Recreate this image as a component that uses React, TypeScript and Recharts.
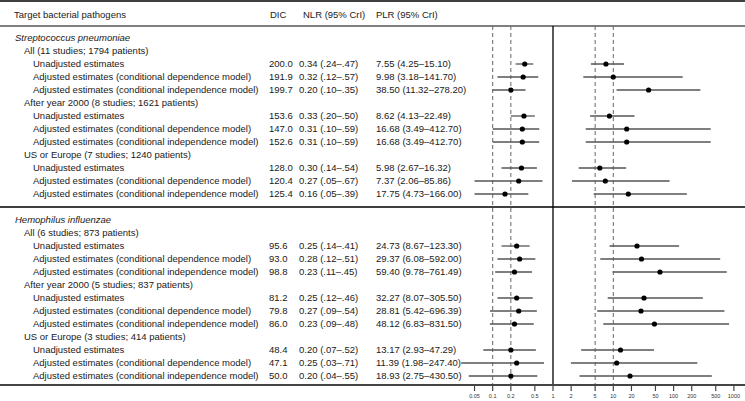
import React from 'react';
import { ScatterChart, Scatter, XAxis, YAxis, ErrorBar, ReferenceLine } from 'recharts';

const FONT = '"Liberation Sans", Arial, Helvetica, sans-serif';

// ---- data ----
const pathogens = ['Streptococcus pneumoniae', 'Hemophilus influenzae'];
const subgroups = [
  ['All (11 studies; 1794 patients)', 'After year 2000 (8 studies; 1621 patients)', 'US or Europe (7 studies; 1240 patients)'],
  ['All (6 studies; 873 patients)', 'After year 2000 (5 studies; 837 patients)', 'US or Europe (3 studies; 414 patients)'],
];
const models = [
  'Unadjusted estimates',
  'Adjusted estimates (conditional dependence model)',
  'Adjusted estimates (conditional independence model)',
];
const headers = ['Target bacterial pathogens', 'DIC', 'NLR (95% CrI)', 'PLR (95% CrI)'];

const dic = [200.0, 191.9, 199.7, 153.6, 147.0, 152.6, 128.0, 120.4, 125.4, 95.6, 93.0, 98.8, 81.2, 79.8, 86.0, 48.4, 47.1, 50.0];
const nlr = [0.34, 0.32, 0.20, 0.33, 0.31, 0.31, 0.30, 0.27, 0.16, 0.25, 0.28, 0.23, 0.25, 0.27, 0.23, 0.20, 0.25, 0.20];
const nlrLow = [0.24, 0.12, 0.10, 0.20, 0.10, 0.10, 0.14, 0.05, 0.05, 0.14, 0.12, 0.11, 0.12, 0.09, 0.09, 0.07, 0.03, 0.04];
const nlrHigh = [0.47, 0.57, 0.35, 0.50, 0.59, 0.59, 0.54, 0.67, 0.39, 0.41, 0.51, 0.45, 0.46, 0.54, 0.48, 0.52, 0.71, 0.55];
const plr = [7.55, 9.98, 38.50, 8.62, 16.68, 16.68, 5.98, 7.37, 17.75, 24.73, 29.37, 59.40, 32.27, 28.81, 48.12, 13.17, 11.39, 18.93];
const plrLow = [4.25, 3.18, 11.32, 4.13, 3.49, 3.49, 2.67, 2.06, 4.73, 8.67, 6.08, 9.78, 8.07, 5.42, 6.83, 2.93, 1.98, 2.75];
const plrHigh = [15.10, 141.70, 278.20, 22.49, 412.70, 412.70, 16.32, 85.86, 166.00, 123.30, 592.00, 761.49, 305.50, 696.39, 831.50, 47.29, 247.40, 430.50];

const xTicks = [0.05, 0.1, 0.2, 0.5, 1, 2, 5, 10, 20, 50, 100, 200, 500, 1000];
const dashedRefs = [0.1, 0.2, 5, 10];

// ---- layout constants ----
const W = 745;
const H = 401;
const X_DOMAIN = [6.75e-10, 1528];
const Y_DOMAIN = [-38 / 13, 347 / 13];
const HEADER_POS = -23 / 13;
const HEADER_LINE_POS = -12 / 13;
const TOP_LINE_POS = -37 / 13;
const DIVIDER_POS = 13;
const BOTTOM_POS = 347 / 13;

// ---- build rows ----
type Row = { pos: number; val: number; kind: 'header' | 'pathogen' | 'subgroup' | 'est'; label: string; idx?: number };
const rows: Row[] = [{ pos: HEADER_POS, val: 1, kind: 'header', label: headers[0] }];
pathogens.forEach((p, pi) => {
  const base = pi * 14;
  rows.push({ pos: base, val: 1, kind: 'pathogen', label: p });
  subgroups[pi].forEach((s, si) => {
    rows.push({ pos: base + 1 + si * 4, val: 1, kind: 'subgroup', label: s });
    models.forEach((m, mi) => {
      rows.push({ pos: base + 2 + si * 4 + mi, val: 1, kind: 'est', label: m, idx: pi * 9 + si * 3 + mi });
    });
  });
});
const estRows = rows.filter((r) => r.kind === 'est');
const nlrData = estRows.map((r) => {
  const i = r.idx as number;
  return { pos: r.pos, val: nlr[i], err: [nlr[i] - nlrLow[i], nlrHigh[i] - nlr[i]] };
});
const plrData = estRows.map((r) => {
  const i = r.idx as number;
  return { pos: r.pos, val: plr[i], err: [plr[i] - plrLow[i], plrHigh[i] - plr[i]] };
});

const short = (v: number) => v.toFixed(2).replace(/^0\./, '.');
const nlrText = (i: number) => `${nlr[i].toFixed(2)} (${short(nlrLow[i])}\u2013${short(nlrHigh[i])})`;
const plrText = (i: number) => `${plr[i].toFixed(2)} (${plrLow[i].toFixed(2)}\u2013${plrHigh[i].toFixed(2)})`;

const COL = { header: 14, pathogen: 15, subgroup: 24, est: 33, dic: 269, dicHead: 270, nlr: 299, nlrHead: 303, plr: 376, plrHead: 376 };
const TXT = { fontFamily: FONT, fontSize: 9.5, fill: '#1a1a1a' };

const RowText = (props: any) => {
  const y = props.cy;
  const r: Row = props.payload;
  if (!r || y == null) return null;
  if (r.kind === 'header') {
    return (
      <g>
        <text x={COL.header} y={y} dy="0.35em" {...TXT}>{headers[0]}</text>
        <text x={COL.dicHead} y={y} dy="0.35em" {...TXT}>{headers[1]}</text>
        <text x={COL.nlrHead} y={y} dy="0.35em" {...TXT}>{headers[2]}</text>
        <text x={COL.plrHead} y={y} dy="0.35em" {...TXT}>{headers[3]}</text>
      </g>
    );
  }
  if (r.kind === 'pathogen') {
    return <text x={COL.pathogen} y={y} dy="0.35em" {...TXT} fontStyle="italic">{r.label}</text>;
  }
  if (r.kind === 'subgroup') {
    return <text x={COL.subgroup} y={y} dy="0.35em" {...TXT}>{r.label}</text>;
  }
  const i = r.idx as number;
  return (
    <g>
      <text x={COL.est} y={y} dy="0.35em" {...TXT}>{r.label}</text>
      <text x={COL.dic} y={y} dy="0.35em" {...TXT}>{dic[i].toFixed(1)}</text>
      <text x={COL.nlr} y={y} dy="0.35em" {...TXT}>{nlrText(i)}</text>
      <text x={COL.plr} y={y} dy="0.35em" {...TXT}>{plrText(i)}</text>
    </g>
  );
};

const Dot = (props: any) => <circle cx={props.cx} cy={props.cy} r={2.6} fill="#000" />;

export default function App() {
  return (
    <div style={{ position: 'absolute', left: 0, top: 0, width: W, height: H, background: '#fff' }}>
      <ScatterChart width={W} height={H} margin={{ top: 0, right: 0, bottom: 0, left: 0 }}>
        <XAxis
          type="number"
          dataKey="val"
          scale="log"
          domain={X_DOMAIN}
          allowDataOverflow
          ticks={xTicks}
          interval={0}
          tickFormatter={(v: number) => String(v)}
          height={16}
          tickSize={6}
          tickMargin={3}
          axisLine={{ stroke: '#444', strokeWidth: 2 }}
          tickLine={{ stroke: '#444', strokeWidth: 1.2 }}
          tick={{ fontSize: 5.5, fill: '#333', fontFamily: FONT }}
        />
        <YAxis type="number" dataKey="pos" domain={Y_DOMAIN} allowDataOverflow reversed width={0} hide />
        <ReferenceLine y={TOP_LINE_POS} stroke="#000" strokeWidth={1.6} />
        <ReferenceLine y={HEADER_LINE_POS} stroke="#000" strokeWidth={1} />
        <ReferenceLine y={DIVIDER_POS} stroke="#000" strokeWidth={1.4} />
        {dashedRefs.map((v) => (
          <ReferenceLine
            key={v}
            segment={[{ x: v, y: HEADER_LINE_POS }, { x: v, y: BOTTOM_POS }]}
            stroke="#666"
            strokeWidth={1}
            strokeDasharray="4 3"
          />
        ))}
        <ReferenceLine segment={[{ x: 1, y: HEADER_LINE_POS }, { x: 1, y: BOTTOM_POS }]} stroke="#000" strokeWidth={1.3} />
        <Scatter data={rows} isAnimationActive={false} shape={<RowText />} />
        <Scatter data={nlrData} isAnimationActive={false} shape={<Dot />}>
          <ErrorBar dataKey="err" direction="x" width={0} stroke="#555" strokeWidth={1.3} isAnimationActive={false} />
        </Scatter>
        <Scatter data={plrData} isAnimationActive={false} shape={<Dot />}>
          <ErrorBar dataKey="err" direction="x" width={0} stroke="#555" strokeWidth={1.3} isAnimationActive={false} />
        </Scatter>
      </ScatterChart>
    </div>
  );
}
